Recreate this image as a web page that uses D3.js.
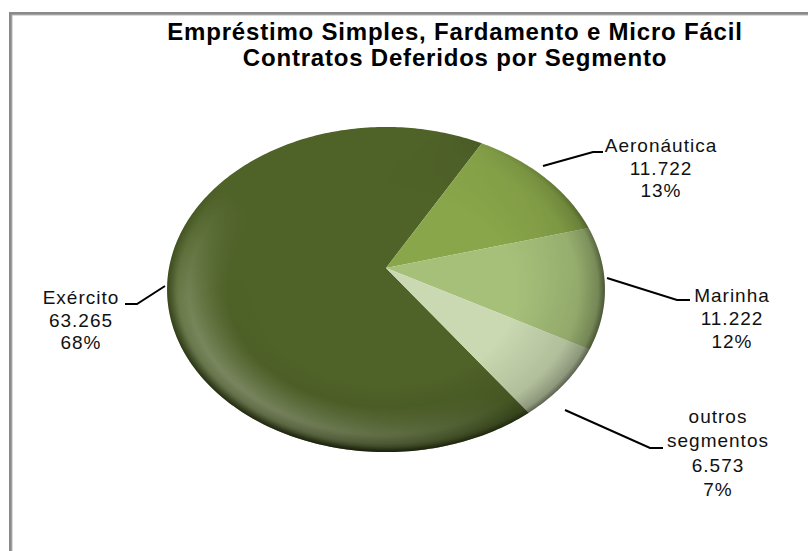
<!DOCTYPE html>
<html><head><meta charset="utf-8">
<script src="https://cdn.jsdelivr.net/npm/d3@7"></script>
<style>
html,body{margin:0;padding:0;background:#fff;}
svg{display:block;}
text{font-family:"Liberation Sans",Arial,sans-serif;}
</style></head>
<body>
<script>
// ---- data ----
const categories = ["Exército", "Aeronáutica", "Marinha", "outros segmentos"];
const labelLines = [["Exército"], ["Aeronáutica"], ["Marinha"], ["outros", "segmentos"]];
const values = [63265, 11722, 11222, 6573];
const colors = ["#4f6228", "#89a64a", "#a6c07a", "#cad9b1"];
const titleLines = ["Empréstimo Simples, Fardamento e Micro Fácil", "Contratos Deferidos por Segmento"];

// ---- layout ----
const W = 808, H = 551;
const cx = 386, cy = 268;          // pie vertex
const RW = 217, RH = 159.7, K = 0.1323; // perspective ellipse params
const labelLayout = [
  {tx: 81,  ty: 304, dy: 22.5, pts: [[165,286],[137,304],[125,304]]},
  {tx: 661, ty: 152, dy: 22.5, pts: [[543,166],[593,152],[603,152]]},
  {tx: 732, ty: 302, dy: 23,   pts: [[607,278],[677,300],[690,300]]},
  {tx: 718, ty: 423, dy: 24.3, pts: [[565,410],[650,448],[663,448]]}
];

const svg = d3.select("body").append("svg").attr("width", W).attr("height", H);

// frame
svg.append("rect").attr("x", 10.5).attr("y", 13.5).attr("width", 820).attr("height", 560)
  .attr("fill", "none").attr("stroke", "#8a8a8a").attr("stroke-width", 3);
svg.append("rect").attr("x", 12).attr("y", 15).attr("width", 820).attr("height", 560)
  .attr("fill", "none").attr("stroke", "#b8b8b8").attr("stroke-width", 1);

// title
svg.append("g").selectAll("text").data(titleLines).join("text")
  .attr("x", 455).attr("y", (d, i) => 40 + i * 26)
  .attr("text-anchor", "middle").attr("font-size", 24).attr("font-weight", "bold")
  .attr("letter-spacing", 0.8).attr("fill", "#000").text(d => d);

// projection of circle angle a (clockwise from top), radius fraction r
function proj(a, r = 1) {
  const den = 1 + K * r * Math.cos(a);
  return [cx + RW * r * Math.sin(a) / den, cy - RH * r * Math.cos(a) / den];
}

const total = d3.sum(values);
const rot = 29.5 * Math.PI / 180 - 2 * Math.PI * values[0] / total;
const pie = d3.pie().sort(null).value(d => d).startAngle(rot).endAngle(rot + 2 * Math.PI);
const arcs = pie(values);
const line = d3.line();

function slicePath(d) {
  const n = Math.max(4, Math.ceil((d.endAngle - d.startAngle) / (Math.PI / 180)));
  const pts = [[cx, cy]];
  for (let i = 0; i <= n; i++) pts.push(proj(d.startAngle + (d.endAngle - d.startAngle) * i / n));
  return line(pts) + "Z";
}
function fullPath() {
  const pts = [];
  for (let i = 0; i < 360; i++) pts.push(proj(i * Math.PI / 180));
  return line(pts) + "Z";
}

const defs = svg.append("defs");
// dark rim
const g1 = defs.append("radialGradient").attr("id", "dark")
  .attr("cx", "50%").attr("cy", "50%").attr("r", "50%");
[[0, 0], [0.6, 0], [0.88, 0.12], [0.97, 0.3], [1, 0.55]].forEach(([o, a]) =>
  g1.append("stop").attr("offset", o).attr("stop-color", "#000").attr("stop-opacity", a));
const ld = defs.append("linearGradient").attr("id", "dm").attr("x1", "0.1").attr("y1", "0.1").attr("x2", "0.85").attr("y2", "0.95");
ld.append("stop").attr("offset", 0.25).attr("stop-color", "#000");
ld.append("stop").attr("offset", 0.75).attr("stop-color", "#fff");
defs.append("mask").attr("id", "dmask").attr("maskContentUnits", "userSpaceOnUse")
  .append("rect").attr("x", 160).attr("y", 120).attr("width", 460).attr("height", 345).attr("fill", "url(#dm)");
// light band
const g2 = defs.append("radialGradient").attr("id", "hi")
  .attr("cx", "50%").attr("cy", "50%").attr("r", "50%");
[[0, 0], [0.72, 0], [0.9, 0.3], [0.96, 0.18], [1, 0]].forEach(([o, a]) =>
  g2.append("stop").attr("offset", o).attr("stop-color", "#fff").attr("stop-opacity", a));
const lg = defs.append("linearGradient").attr("id", "hm").attr("x1", "0").attr("y1", "0.9").attr("x2", "0.7").attr("y2", "0.2");
lg.append("stop").attr("offset", 0.2).attr("stop-color", "#fff");
lg.append("stop").attr("offset", 0.6).attr("stop-color", "#000");
defs.append("mask").attr("id", "hmask").attr("maskContentUnits", "userSpaceOnUse")
  .append("rect").attr("x", 160).attr("y", 120).attr("width", 460).attr("height", 345).attr("fill", "url(#hm)");
// thin edge
const g3 = defs.append("radialGradient").attr("id", "edge")
  .attr("cx", "50%").attr("cy", "50%").attr("r", "50%");
[[0, 0], [0.95, 0], [1, 0.35]].forEach(([o, a]) =>
  g3.append("stop").attr("offset", o).attr("stop-color", "#000").attr("stop-opacity", a));

const pg = svg.append("g");
pg.selectAll("path.slice").data(arcs).join("path").attr("class", "slice")
  .attr("d", slicePath).attr("fill", (d, i) => colors[i]);
pg.append("path").attr("d", fullPath()).attr("fill", "url(#hi)").attr("mask", "url(#hmask)");
pg.append("path").attr("d", fullPath()).attr("fill", "url(#dark)").attr("mask", "url(#dmask)");
pg.append("path").attr("d", fullPath()).attr("fill", "url(#edge)").attr("mask", "url(#hmask)");

// labels
const fmt = d3.formatLocale({decimal: ",", thousands: ".", grouping: [3], currency: ["R$", ""]}).format(",d");
const lg2 = svg.append("g");
arcs.forEach((d, i) => {
  const L = labelLayout[i];
  lg2.append("path").attr("d", line(L.pts)).attr("fill", "none").attr("stroke", "#000").attr("stroke-width", 2);
  const lines = labelLines[i].concat([fmt(values[i]), Math.round(values[i] / total * 100) + "%"]);
  lg2.append("g").selectAll("text").data(lines).join("text")
    .attr("x", L.tx).attr("y", (t, j) => L.ty + j * L.dy)
    .attr("text-anchor", "middle").attr("font-size", 19).attr("letter-spacing", 1)
    .attr("fill", "#111").text(t => t);
});
</script>
</body></html>
